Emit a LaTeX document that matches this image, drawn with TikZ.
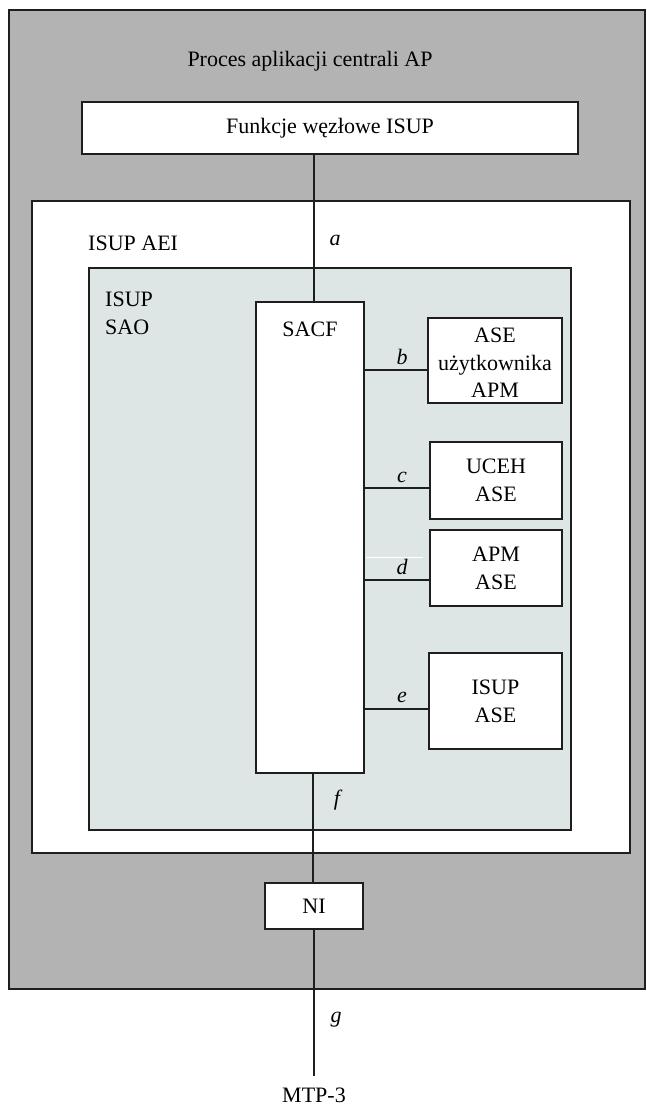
\documentclass[tikz,border=0pt]{standalone}
\usepackage{fontspec}
\setmainfont{Liberation Serif}
\definecolor{outergray}{RGB}{179,179,179}
\definecolor{saofill}{RGB}{221,229,229}
\definecolor{edge}{RGB}{30,30,30}
\begin{document}
\begin{tikzpicture}[x=1pt,y=-1pt,
  every node/.style={font=\fontsize{22}{25}\selectfont, inner sep=0pt},
  box/.style={draw=edge, line width=1.4pt, fill=white},
  conn/.style={draw=edge, line width=1.2pt},
  lbl/.style={font=\fontsize{22}{25}\selectfont\itshape},
  txt/.style={align=center}
]
\useasboundingbox (0,0) rectangle (646,1106);
% outer process
\draw[draw=edge, line width=1.5pt, fill=outergray] (9,10) rectangle (645,989);
\node[txt] (title) at (310,61) {Proces aplikacji centrali AP};
% Funkcje
\node[box, minimum width=496pt, minimum height=52pt] (fun) at (330,128) {Funkcje węzłowe ISUP};
% AEI
\draw[draw=edge, line width=1.4pt, fill=white] (32,201) rectangle (630,853);
\node[anchor=west] (aei) at (88,243) {ISUP AEI};
% SAO
\draw[draw=edge, line width=1.4pt, fill=saofill] (89,268) rectangle (571,830);
\node[anchor=north west, align=left, font=\fontsize{22}{28}\selectfont] (sao) at (105,292) {ISUP\\SAO};
% SACF
\node[box, minimum width=108pt, minimum height=471pt] (sacf) at (310,537.5) {};
\node[anchor=base] (sacft) at (310,336) {SACF};
% ASE boxes
\node[box, minimum width=134pt, minimum height=85pt, txt, font=\fontsize{22}{27.5}\selectfont] (ase1) at (495,360.5) {};
\node[txt, font=\fontsize{22}{27.5}\selectfont] (ase1t) at (495,363) {ASE\\użytkownika\\APM};
\node[box, minimum width=132pt, minimum height=77pt, txt, font=\fontsize{22}{28}\selectfont] (uceh) at (496,480.5) {UCEH\\ASE};
\node[box, minimum width=132pt, minimum height=76pt, txt, font=\fontsize{22}{28}\selectfont] (apm) at (496,568) {APM\\ASE};
\node[box, minimum width=133pt, minimum height=96pt, txt, font=\fontsize{22}{28}\selectfont] (isup) at (495.5,701) {ISUP\\ASE};
% NI
\node[box, minimum width=98pt, minimum height=46pt] (ni) at (314,906) {NI};
\coordinate (mtpend) at (314,1076);
\node[anchor=base] (mtp) at (314,1102) {MTP-3};
% connectors
\draw[conn] (314,154) coordinate (fa) -- (fa |- sacf.north);
\node[lbl] (la) at (335,240) {a};
\draw[conn] (sacf.east |- 0,370) coordinate (b0) -- (b0 -| ase1.west);
\node[lbl] (lb) at (402,357) {b};
\draw[conn] (sacf.east |- 0,488) coordinate (c0) -- (c0 -| uceh.west);
\node[lbl] (lc) at (402,477) {c};
\draw[white, line width=0.8pt] (366,557) -- (423,557);
\draw[conn] (sacf.east |- 0,580) coordinate (d0) -- (d0 -| apm.west);
\node[lbl] (ld) at (402,567) {d};
\draw[conn] (sacf.east |- 0,709) coordinate (e0) -- (e0 -| isup.west);
\node[lbl] (le) at (402,697) {e};
\draw[conn] (313,773) coordinate (f0) -- (f0 |- ni.north);
\node[lbl] (lf) at (337,800) {f};
\draw[conn] (ni.south) -- (mtpend);
\node[lbl] (lg) at (336,1020) {g};
\end{tikzpicture}
\end{document}
